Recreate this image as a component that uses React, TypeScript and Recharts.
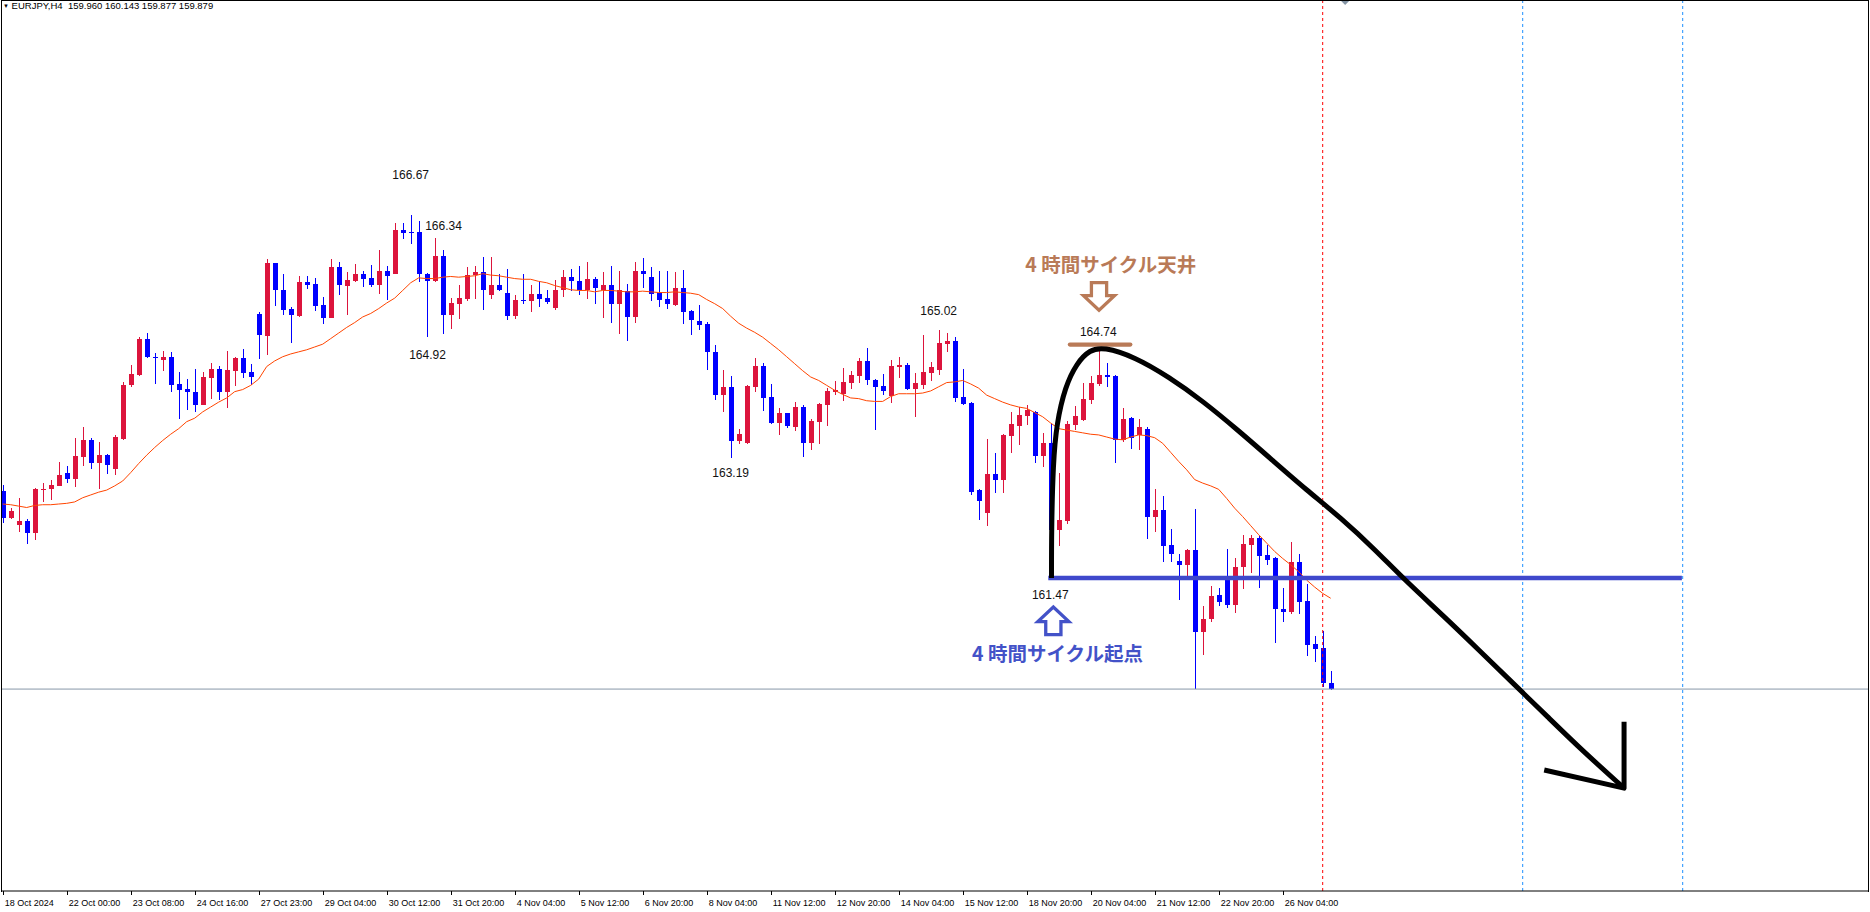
import { ComposedChart, Bar, Line, XAxis, YAxis, ReferenceLine, ReferenceDot } from 'recharts'

// EURJPY H4, one entry per bar (bar 0 = 18 Oct 2024)
const opens = [
  162.72, 162.33, 162.23, 162.29, 162.11, 162.74, 162.74, 162.79, 162.97, 162.89,
  163.21, 163.45, 163.12, 163.23, 163.03, 163.46, 164.23, 164.38, 164.89, 164.64,
  164.60, 164.64, 164.25, 164.18, 164.14, 163.95, 164.34, 164.46, 164.14, 164.44,
  164.62, 164.42, 165.25, 164.94, 165.98, 165.60, 165.32, 165.23, 165.71, 165.68,
  165.38, 165.19, 165.93, 165.65, 165.73, 165.83, 165.77, 165.67, 165.87, 165.83,
  166.46, 166.43, 166.43, 165.83, 165.72, 166.08, 165.24, 165.40, 165.47, 165.81,
  165.85, 165.52, 165.67, 165.55, 165.23, 165.46, 165.44, 165.54, 165.48, 165.34,
  165.59, 165.78, 165.73, 165.59, 165.75, 165.60, 165.67, 165.39, 165.58, 165.21,
  165.87, 165.78, 165.55, 165.47, 165.38, 165.62, 165.29, 165.15, 165.11, 164.71,
  164.09, 164.21, 163.43, 163.40, 164.21, 164.51, 164.06, 163.69, 163.83, 163.63,
  163.92, 163.40, 163.70, 163.95, 164.13, 164.11, 164.26, 164.36, 164.58, 164.31,
  164.22, 164.08, 164.49, 164.52, 164.18, 164.23, 164.41, 164.45, 164.82, 164.87,
  164.06, 163.98, 162.73, 162.40, 162.96, 162.87, 163.50, 163.65, 163.79, 163.85,
  163.22, 163.40, 162.16, 162.29, 163.66, 163.73, 164.02, 164.25, 164.38, 164.36,
  163.45, 163.76, 163.52, 163.61, 162.35, 162.44, 161.94, 161.72, 161.66, 161.87,
  160.69, 160.88, 161.22, 161.44, 161.08, 161.63, 161.94, 162.04, 161.80, 161.76,
  161.03, 160.99, 161.70, 161.14, 160.53, 160.47, 159.96,
]
const highs = [
  162.80, 162.48, 162.62, 162.32, 162.76, 162.83, 162.88, 163.13, 163.07, 163.47,
  163.63, 163.48, 163.42, 163.25, 163.52, 164.28, 164.52, 164.93, 164.98, 164.69,
  164.72, 164.71, 164.42, 164.32, 164.46, 164.42, 164.55, 164.51, 164.72, 164.64,
  164.75, 164.54, 165.28, 166.04, 165.99, 165.83, 165.35, 165.80, 165.80, 165.77,
  165.50, 166.04, 166.00, 165.85, 165.97, 165.87, 165.95, 166.17, 165.94, 166.55,
  166.55, 166.67, 166.59, 165.84, 166.34, 166.17, 165.48, 165.67, 165.93, 165.94,
  166.07, 166.07, 165.83, 165.90, 165.53, 165.83, 165.67, 165.73, 165.60, 165.74,
  165.88, 165.90, 165.94, 166.00, 165.78, 165.85, 165.94, 165.87, 165.68, 166.00,
  166.06, 165.93, 165.87, 165.87, 165.85, 165.88, 165.31, 165.38, 165.14, 164.81,
  164.45, 164.36, 163.60, 164.23, 164.62, 164.55, 164.25, 163.91, 163.84, 163.99,
  163.95, 163.75, 163.98, 164.19, 164.29, 164.48, 164.44, 164.62, 164.76, 164.32,
  164.39, 164.59, 164.64, 164.55, 164.41, 164.95, 164.56, 165.02, 164.98, 164.92,
  164.46, 163.99, 162.74, 163.46, 163.26, 163.53, 163.85, 163.92, 163.95, 163.86,
  163.55, 163.68, 162.97, 163.72, 163.93, 164.26, 164.36, 164.74, 164.55, 164.38,
  163.90, 163.77, 163.75, 163.63, 162.75, 162.65, 162.17, 161.81, 161.89, 162.46,
  161.07, 161.35, 161.32, 161.89, 161.75, 162.08, 162.08, 162.07, 161.95, 161.77,
  161.32, 161.99, 161.82, 161.39, 160.64, 160.71, 160.143,
]
const lows = [
  162.26, 162.32, 162.13, 161.96, 162.02, 162.56, 162.60, 162.79, 162.82, 162.77,
  163.07, 163.03, 162.74, 162.96, 162.95, 163.45, 164.20, 164.37, 164.62, 164.25,
  164.44, 164.13, 163.75, 163.88, 163.84, 163.95, 164.04, 164.02, 163.90, 164.23,
  164.33, 164.24, 164.61, 164.66, 165.37, 165.24, 164.84, 165.21, 165.62, 165.30,
  165.11, 165.19, 165.53, 165.23, 165.71, 165.64, 165.63, 165.54, 165.46, 165.82,
  166.32, 166.25, 165.72, 164.92, 165.71, 164.97, 165.03, 165.19, 165.44, 165.47,
  165.31, 165.47, 165.58, 165.17, 165.19, 165.40, 165.29, 165.36, 165.40, 165.31,
  165.49, 165.59, 165.53, 165.47, 165.39, 165.19, 165.13, 164.97, 164.87, 165.13,
  165.63, 165.44, 165.36, 165.33, 165.37, 165.11, 164.95, 165.02, 164.45, 164.02,
  163.85, 163.19, 163.38, 163.39, 164.13, 163.86, 163.68, 163.53, 163.63, 163.58,
  163.20, 163.30, 163.39, 163.65, 164.09, 164.01, 164.18, 164.26, 164.23, 163.59,
  164.09, 163.98, 164.34, 164.17, 163.78, 164.18, 164.29, 164.38, 164.71, 163.99,
  163.95, 162.66, 162.29, 162.21, 162.68, 162.68, 163.26, 163.38, 163.66, 163.12,
  163.07, 161.47, 161.93, 162.24, 163.58, 163.72, 163.96, 164.22, 164.21, 163.12,
  163.42, 163.31, 163.31, 162.03, 162.13, 161.70, 161.70, 161.15, 161.50, 159.88,
  160.37, 160.84, 161.06, 161.05, 160.96, 161.31, 161.54, 161.33, 161.67, 160.54,
  160.83, 160.96, 160.96, 160.36, 160.27, 159.91, 159.877,
]
const closes = [
  162.33, 162.43, 162.28, 162.11, 162.75, 162.75, 162.80, 162.95, 162.89, 163.22,
  163.45, 163.12, 163.23, 163.09, 163.49, 164.24, 164.39, 164.89, 164.64, 164.63,
  164.64, 164.24, 164.17, 164.13, 163.95, 164.35, 164.46, 164.13, 164.45, 164.62,
  164.41, 164.35, 164.95, 165.98, 165.59, 165.31, 165.24, 165.71, 165.67, 165.37,
  165.19, 165.93, 165.67, 165.74, 165.83, 165.76, 165.67, 165.87, 165.79, 166.46,
  166.42, 166.42, 165.82, 165.72, 166.08, 165.24, 165.41, 165.48, 165.81, 165.85,
  165.59, 165.67, 165.60, 165.23, 165.45, 165.44, 165.54, 165.47, 165.42, 165.60,
  165.78, 165.72, 165.59, 165.75, 165.62, 165.67, 165.39, 165.60, 165.21, 165.87,
  165.82, 165.54, 165.46, 165.39, 165.62, 165.28, 165.16, 165.09, 164.71, 164.09,
  164.21, 163.43, 163.53, 164.22, 164.51, 164.05, 163.69, 163.83, 163.65, 163.92,
  163.40, 163.72, 163.96, 164.15, 164.16, 164.28, 164.38, 164.58, 164.31, 164.21,
  164.15, 164.51, 164.52, 164.18, 164.26, 164.42, 164.49, 164.84, 164.87, 164.05,
  163.96, 162.70, 162.57, 162.96, 162.87, 163.52, 163.68, 163.80, 163.88, 163.22,
  163.40, 162.16, 162.30, 163.68, 163.79, 164.03, 164.26, 164.38, 164.35, 163.45,
  163.75, 163.47, 163.63, 162.35, 162.44, 161.93, 161.81, 161.66, 161.87, 160.69,
  160.88, 161.21, 161.13, 161.08, 161.63, 161.96, 162.04, 161.79, 161.73, 161.02,
  160.99, 161.70, 161.13, 160.51, 160.46, 159.96, 159.879,
]
// moving average as drawn on the chart
const maValues = [
  162.53, 162.52, 162.50, 162.48, 162.51, 162.52, 162.52, 162.53, 162.54, 162.56,
  162.62, 162.66, 162.70, 162.73, 162.79, 162.86, 162.98, 163.11, 163.23, 163.34,
  163.44, 163.53, 163.61, 163.71, 163.76, 163.85, 163.92, 163.99, 164.05, 164.14,
  164.17, 164.23, 164.32, 164.50, 164.58, 164.64, 164.68, 164.71, 164.74, 164.78,
  164.82, 164.90, 164.98, 165.06, 165.13, 165.21, 165.26, 165.33, 165.41, 165.48,
  165.59, 165.70, 165.77, 165.76, 165.76, 165.78, 165.79, 165.78, 165.79, 165.80,
  165.83, 165.81, 165.80, 165.78, 165.76, 165.75, 165.75, 165.72, 165.70, 165.66,
  165.63, 165.60, 165.59, 165.59, 165.57, 165.59, 165.59, 165.58, 165.57, 165.57,
  165.58, 165.57, 165.56, 165.56, 165.57, 165.56, 165.55, 165.53, 165.46, 165.40,
  165.33, 165.22, 165.12, 165.05, 164.99, 164.92, 164.83, 164.74, 164.64, 164.54,
  164.44, 164.35, 164.30, 164.23, 164.16, 164.10, 164.05, 164.04, 164.01, 164.00,
  164.00, 164.07, 164.11, 164.11, 164.11, 164.12, 164.15, 164.21, 164.27, 164.28,
  164.30, 164.25, 164.19, 164.09, 164.04, 163.99, 163.95, 163.92, 163.90, 163.84,
  163.78, 163.69, 163.61, 163.59, 163.57, 163.55, 163.53, 163.52, 163.49, 163.46,
  163.45, 163.49, 163.52, 163.51, 163.48, 163.40, 163.27, 163.14, 163.02, 162.88,
  162.83, 162.79, 162.74, 162.61, 162.47, 162.35, 162.22, 162.09, 161.97, 161.85,
  161.75, 161.66, 161.56, 161.44, 161.34, 161.25, 161.18,
]
// one time label every 8 bars
const tickLabels = [
  '18 Oct 2024', '22 Oct 00:00', '23 Oct 08:00', '24 Oct 16:00', '27 Oct 23:00', '29 Oct 04:00',
  '30 Oct 12:00', '31 Oct 20:00', '4 Nov 04:00', '5 Nov 12:00', '6 Nov 20:00', '8 Nov 04:00',
  '11 Nov 12:00', '12 Nov 20:00', '14 Nov 04:00', '15 Nov 12:00', '18 Nov 20:00', '20 Nov 04:00',
  '21 Nov 12:00', '22 Nov 20:00', '26 Nov 04:00',
]
const tickBars = tickLabels.map((_, k) => k * 8)

const priceLabels = [
  { i: 51.0, p: 167.24, text: '166.67' },
  { i: 55.1, p: 166.52, text: '166.34' },
  { i: 53.1, p: 164.66, text: '164.92' },
  { i: 117.0, p: 165.29, text: '165.02' },
  { i: 91.0, p: 162.97, text: '163.19' },
  { i: 136.95, p: 165.0, text: '164.74' },
  { i: 130.95, p: 161.22, text: '161.47' },
]

// hand drawn cycle curve (bar index, price)
const cycleCurve = [
  { i: 131.1, p: 161.47 }, { i: 131.1, p: 162.16 }, { i: 131.3, p: 163.12 },
  { i: 131.75, p: 163.69 }, { i: 132.8, p: 164.21 }, { i: 134.25, p: 164.55 },
  { i: 135.9, p: 164.74 }, { i: 137.6, p: 164.78 }, { i: 141.46, p: 164.64 },
  { i: 145.78, p: 164.35 }, { i: 150.08, p: 164.0 }, { i: 154.38, p: 163.59 },
  { i: 158.69, p: 163.16 }, { i: 162.99, p: 162.73 }, { i: 167.29, p: 162.33 },
  { i: 171.6, p: 161.87 }, { i: 175.04, p: 161.465 }, { i: 180.21, p: 160.915 },
  { i: 184.51, p: 160.44 }, { i: 188.81, p: 159.96 }, { i: 193.13, p: 159.48 },
  { i: 197.43, p: 159.0 }, { i: 202.67, p: 158.46 },
]
const arrowHead = [{ i: 192.69, p: 158.72 }, { i: 202.67, p: 158.46 }, { i: 202.67, p: 159.41 }]
const cycleStartLine = [{ i: 130.7, p: 161.47 }, { i: 209.9, p: 161.47 }]
const cycleTopLine = [{ i: 133.4, p: 164.815 }, { i: 140.95, p: 164.815 }]

const lastClose = 159.879
const markerBars = { red: 165, blueA: 190, blueB: 210 }

const UP = '#DC143C'
const DOWN = '#0000FF'
const BROWN = '#B97A57'
const INDIGO = '#3F48CC'
const FONT = '"Liberation Sans", Arial, sans-serif'
const CJK = '"Noto Sans CJK JP", "Noto Sans", sans-serif'

const candles = opens.map((o, k) => ({ i: k, o, h: highs[k], l: lows[k], c: closes[k], ma: maValues[k] }))

function Candle(props: any) {
  const { x, y, width, height, payload } = props
  if (!payload || x == null || y == null) return null
  const { o, h, l, c } = payload
  const top = Math.min(y, y + height)
  const span = Math.abs(height)
  const toY = (v: number) => top + ((h - v) / (h - l || 1)) * span
  const cx = Math.round(x + width / 2)
  const color = c >= o ? UP : DOWN
  const bTop = Math.round(toY(Math.max(o, c)))
  const bBot = Math.round(toY(Math.min(o, c)))
  return (
    <g shapeRendering="crispEdges">
      <rect x={cx} y={Math.round(top)} width={1} height={Math.max(1, Math.round(span))} fill={color} />
      <rect x={cx - 2} y={bTop} width={5} height={Math.max(1, bBot - bTop)} fill={color} />
    </g>
  )
}

function TimeTick(props: any) {
  const { x, y, payload } = props
  const label = tickLabels[tickBars.indexOf(payload.value)]
  return (
    <g>
      <line x1={Math.round(x) + 0.5} x2={Math.round(x) + 0.5} y1={y} y2={y + 4} stroke="#000" />
      <text x={x + 2} y={y + 15} fontSize={9} fill="#000" fontFamily={FONT}>{label}</text>
    </g>
  )
}

const priceText = (text: string) => (p: any) => (
  <text x={p.cx} y={p.cy} textAnchor="middle" dominantBaseline="central" fontSize={12} fill="#111" fontFamily={FONT}>
    {text}
  </text>
)

const cjkText = (text: string, color: string) => (p: any) => (
  <text x={p.cx} y={p.cy} textAnchor="middle" dominantBaseline="central" fontSize={19.5} fontWeight={700} fill={color} fontFamily={CJK}>
    {text}
  </text>
)

const blockArrow = (dir: 'up' | 'down', color: string) => (p: any) => {
  const s = dir === 'up' ? -1 : 1
  const pts = [[-7.6, -14], [7.6, -14], [7.6, -1], [15.5, -1], [0, 13.6], [-15.5, -1], [-7.6, -1]]
  return (
    <polygon
      points={pts.map(([dx, dy]) => `${p.cx + dx},${p.cy + s * dy}`).join(' ')}
      fill="none"
      stroke={color}
      strokeWidth={3.3}
    />
  )
}

const shiftMarker = (p: any) => (
  <polygon points={`${p.cx - 5},${p.cy} ${p.cx + 5},${p.cy} ${p.cx},${p.cy + 5}`} fill="#8595A5" />
)

export default function App() {
  return (
    <div style={{ position: 'absolute', left: 0, top: 0, width: 1870, height: 912, background: '#fff', fontFamily: FONT }}>
      <ComposedChart width={1870} height={912} data={candles} margin={{ top: 0, right: 2, left: 1, bottom: 0 }}>
        <XAxis
          dataKey="i"
          type="number"
          domain={[-0.2125, 233.1625]}
          allowDataOverflow
          ticks={tickBars}
          interval={0}
          tick={<TimeTick />}
          tickLine={false}
          tickSize={0}
          tickMargin={0}
          axisLine={{ stroke: '#000' }}
          height={21}
        />
        <YAxis hide type="number" domain={[156.986, 169.751]} allowDataOverflow />
        <ReferenceLine y={lastClose} stroke="#8797A8" />
        <ReferenceLine x={markerBars.red} stroke="#FF0000" strokeDasharray="3 3" />
        <ReferenceLine x={markerBars.blueA} stroke="#1E90FF" strokeDasharray="3 3" />
        <ReferenceLine x={markerBars.blueB} stroke="#1E90FF" strokeDasharray="3 3" />
        <Bar dataKey={(d: any) => [d.l, d.h]} barSize={5} shape={<Candle />} isAnimationActive={false} />
        <Line dataKey="ma" type="linear" stroke="#FF4500" strokeWidth={1} dot={false} isAnimationActive={false} />
        <Line data={cycleStartLine} dataKey="p" type="linear" stroke={INDIGO} strokeWidth={4.5} dot={false} isAnimationActive={false} />
        <Line data={cycleTopLine} dataKey="p" type="linear" stroke={BROWN} strokeWidth={4.3} strokeLinecap="round" dot={false} isAnimationActive={false} />
        <Line data={cycleCurve} dataKey="p" type="basis" stroke="#000" strokeWidth={5} dot={false} isAnimationActive={false} />
        <Line data={arrowHead} dataKey="p" type="linear" stroke="#000" strokeWidth={5} strokeLinejoin="round" dot={false} isAnimationActive={false} />
        {priceLabels.map((l) => (
          <ReferenceDot key={l.text} x={l.i} y={l.p} r={0} ifOverflow="visible" shape={priceText(l.text)} />
        ))}
        <ReferenceDot x={138.5} y={165.97} r={0} ifOverflow="visible" shape={cjkText('4 時間サイクル天井', BROWN)} />
        <ReferenceDot x={131.85} y={160.4} r={0} ifOverflow="visible" shape={cjkText('4 時間サイクル起点', '#4352C8')} />
        <ReferenceDot x={137.04} y={165.5} r={0} ifOverflow="visible" shape={blockArrow('down', BROWN)} />
        <ReferenceDot x={131.33} y={160.86} r={0} ifOverflow="visible" shape={blockArrow('up', '#4352C8')} />
        <ReferenceDot x={167.8} y={169.751} r={0} ifOverflow="visible" shape={shiftMarker} />
      </ComposedChart>
      <div
        style={{
          position: 'absolute', left: 1, top: 0, width: 1868, height: 892, boxSizing: 'border-box',
          borderTop: '1px solid #000', borderLeft: '1px solid #000', borderRight: '1px solid #000', pointerEvents: 'none',
        }}
      />
      <div style={{ position: 'absolute', left: 3, top: 0, fontSize: 9.5, lineHeight: '11px', color: '#000', whiteSpace: 'pre' }}>
        <span style={{ fontSize: 6, verticalAlign: 'middle' }}>▼</span>
        {' EURJPY,H4  159.960 160.143 159.877 159.879'}
      </div>
    </div>
  )
}
